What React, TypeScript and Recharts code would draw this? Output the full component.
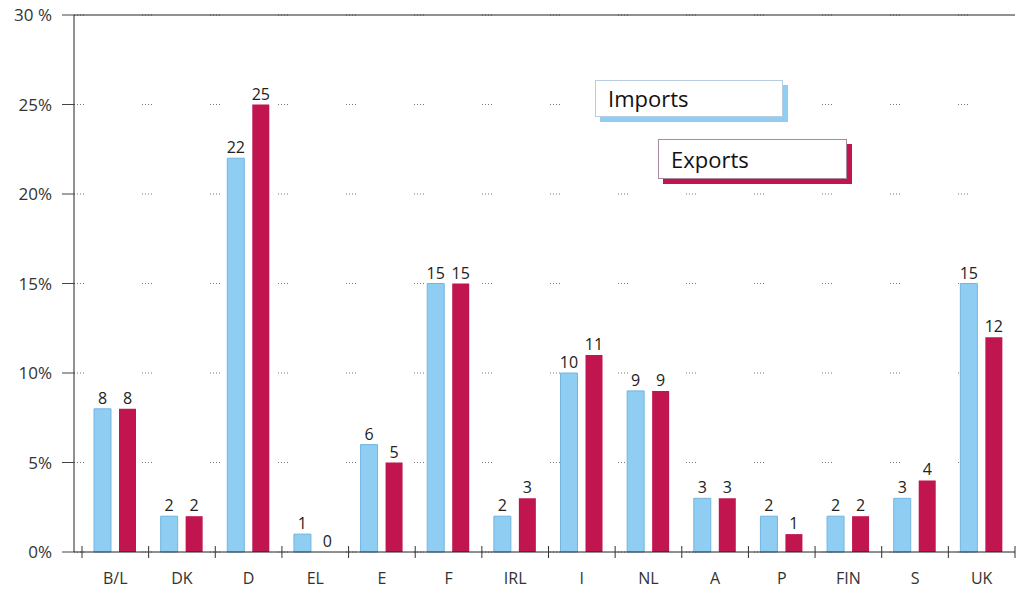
import { Bar, BarChart, CartesianGrid, LabelList, Legend, ReferenceLine, XAxis, YAxis } from "recharts";

const countries = ["B/L", "DK", "D", "EL", "E", "F", "IRL", "I", "NL", "A", "P", "FIN", "S", "UK"];
const imports = [8, 2, 22, 1, 6, 15, 2, 10, 9, 3, 2, 2, 3, 15];
const exports = [8, 2, 25, 0, 5, 15, 3, 11, 9, 3, 1, 2, 4, 12];
const yTicks = [0, 5, 10, 15, 20, 25, 30];
const yTickLabels = ["0%", "5%", "10%", "15%", "20%", "25%", "30 %"];

const BLUE = "#8fcdf2";
const RED = "#c0154f";
const FONT = "'Open Sans', 'DejaVu Sans', sans-serif";

// plot geometry (page px)
const W = 1023;
const H = 595;
const PLOT_LEFT = 74;
const PLOT_RIGHT = 1015;
const PAD_LEFT = 8;
const BAND = (PLOT_RIGHT - PLOT_LEFT - PAD_LEFT) / countries.length;

const data = countries.map((c, i) => ({ country: c, Imports: imports[i], Exports: exports[i] }));

function CountryTick(props: any) {
  const { x, y, payload, index } = props;
  return (
    <g>
      <line x1={x - BAND / 2} x2={x - BAND / 2} y1={y - 6} y2={y + 6} stroke="#333" />
      {index === countries.length - 1 && (
        <line x1={x + BAND / 2} x2={x + BAND / 2} y1={y - 6} y2={y + 6} stroke="#333" />
      )}
      <text x={x} y={y} dy={32} textAnchor="middle" fontSize={16} fill="#333" fontFamily={FONT}>
        {payload.value}
      </text>
    </g>
  );
}

function LegendBoxes({ payload }: any) {
  const items = payload ?? [];
  const color = (name: string) => items.find((p: any) => p.value === name)?.color;
  const box = (name: string, left: number, top: number, w: number, h: number, border: string) => (
    <div
      key={name}
      style={{
        position: "absolute",
        left,
        top,
        width: w,
        height: h,
        background: "#fff",
        border: `1px solid ${border}`,
        boxShadow: `5px 5px 0 ${color(name)}`,
        boxSizing: "border-box",
        fontFamily: FONT,
        fontSize: 22,
        color: "#111",
        lineHeight: `${h - 2}px`,
        paddingLeft: 12,
      }}
    >
      {name}
    </div>
  );
  return (
    <div style={{ position: "relative" }}>
      {box("Imports", 0, 0, 188, 37, "#b9cde0")}
      {box("Exports", 63, 59, 189, 40, "#a88aa0")}
    </div>
  );
}

export default function App() {
  return (
    <div style={{ position: "absolute", left: 0, top: 0, width: W, height: H, background: "#fff" }}>
      <BarChart
        width={W}
        height={H}
        data={data}
        margin={{ top: 15, right: W - PLOT_RIGHT, bottom: 0, left: 0 }}
        barSize={17}
        barGap={8}
      >
        <CartesianGrid vertical={false} stroke="#777" strokeDasharray="1 2 1 2 1 2 1 58" />
        <XAxis
          dataKey="country"
          height={43}
          padding={{ left: PAD_LEFT, right: 0 }}
          tickLine={false}
          tickSize={0}
          tickMargin={0}
          axisLine={{ stroke: "#222" }}
          tick={<CountryTick />}
          interval={0}
        />
        <YAxis
          width={PLOT_LEFT}
          domain={[0, 30]}
          ticks={yTicks}
          tickFormatter={(v: number) => yTickLabels[yTicks.indexOf(v)]}
          tickSize={12}
          tickMargin={10}
          tickLine={{ stroke: "#444" }}
          axisLine={{ stroke: "#222" }}
          tick={{ fill: "#333", fontSize: 17, fontFamily: FONT }}
        />
        <ReferenceLine y={30} stroke="#222" />
        <Legend
          layout="vertical"
          align="center"
          verticalAlign="middle"
          wrapperStyle={{ left: 595, top: 80, width: 260, height: 110 }}
          content={<LegendBoxes />}
        />
        <Bar dataKey="Imports" fill={BLUE} stroke="#72b6e0" strokeWidth={1} isAnimationActive={false}>
          <LabelList dataKey="Imports" position="top" offset={5} fill="#222" fontSize={16} fontFamily={FONT} />
        </Bar>
        <Bar dataKey="Exports" fill={RED} minPointSize={0.01} isAnimationActive={false}>
          <LabelList dataKey="Exports" position="top" offset={5} fill="#222" fontSize={16} fontFamily={FONT} />
        </Bar>
      </BarChart>
    </div>
  );
}
